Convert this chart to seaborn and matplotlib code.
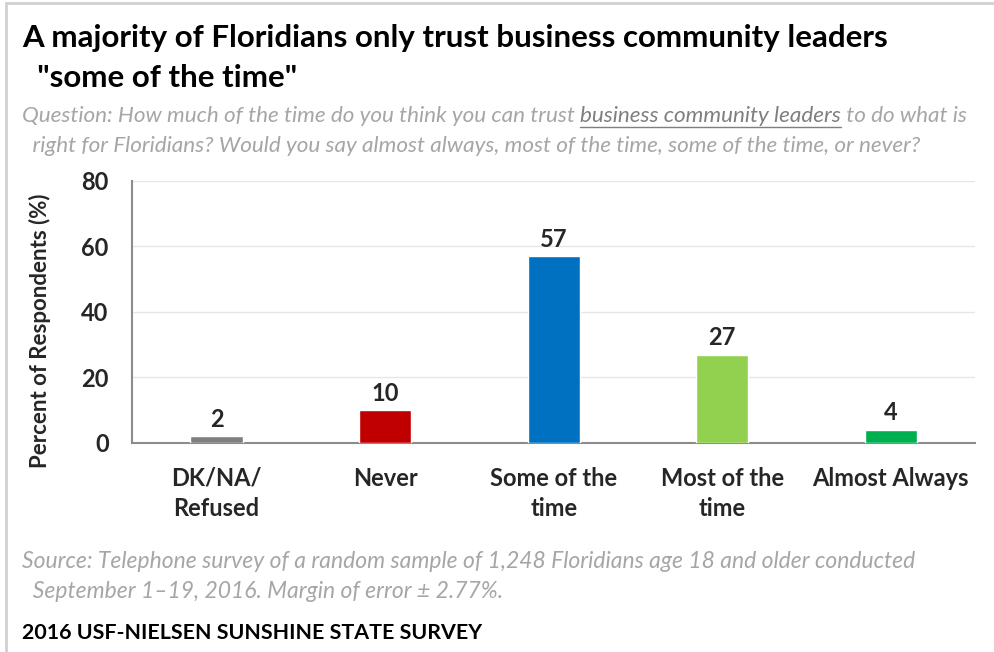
import matplotlib
matplotlib.use("Agg")
import matplotlib.pyplot as plt
import seaborn as sns
import pandas as pd
from matplotlib.lines import Line2D

categories = ["DK/NA/\nRefused", "Never", "Some of the\ntime", "Most of the\ntime", "Almost Always"]
values = [2, 10, 57, 27, 4]
bar_colors = ["#7f7f7f", "#c00000", "#0070c0", "#92d050", "#00b050"]
y_ticks = [0, 20, 40, 60, 80]

title_1 = "A majority of Floridians only trust business community leaders"
title_2 = '  "some of the time"'
q_before = "Question: How much of the time do you think you can trust "
q_under = "business community leaders"
q_after = " to do what is"
q_line2 = "  right for Floridians? Would you say almost always, most of the time, some of the time, or never?"
source_1 = "Source: Telephone survey of a random sample of 1,248 Floridians age 18 and older conducted"
source_2 = "  September 1\u201319, 2016. Margin of error \u00b1 2.77%."
footer = "2016 USF-NIELSEN SUNSHINE STATE SURVEY"

sns.set_theme(style="white")
plt.rcParams['font.family'] = ['Lato', 'DejaVu Sans']

df = pd.DataFrame({"cat": categories, "val": values})

fig = plt.figure(figsize=(9.95, 6.52), dpi=100)
ax = fig.add_axes([0.133, 0.3206, 0.847, 0.4018])

sns.barplot(data=df, x="cat", y="val", hue="cat", palette=bar_colors,
            legend=False, width=0.31, saturation=1, ax=ax, zorder=3)

ax.set_ylim(0, 80)
ax.set_xlim(-0.5, 4.5)
ax.set_yticks(y_ticks)
ax.set_yticklabels([str(t) for t in y_ticks], fontsize=17, fontweight='bold')
ax.set_xticks(range(len(categories)))
ax.set_xticklabels(categories, fontsize=17, fontweight='bold', linespacing=1.4)
ax.tick_params(axis='x', length=0, pad=17)
ax.tick_params(axis='y', length=0, pad=17)
ax.set_xlabel("")
ax.set_ylabel("Percent of Respondents (%)", fontsize=16, fontweight='bold')
ax.yaxis.set_label_coords(-0.097, 0.43)
ax.yaxis.grid(True, color="#e6e6e6", linewidth=1, zorder=0)
for s in ["top", "right"]:
    ax.spines[s].set_visible(False)
for s in ["left", "bottom"]:
    ax.spines[s].set_color("#8c8c8c")
    ax.spines[s].set_linewidth(1.5)

for container in ax.containers:
    ax.bar_label(container, fmt="%d", fontsize=17, fontweight='bold', padding=4)

# light frame on the left and top edges
fig.lines.append(Line2D([0.006, 0.006], [0, 0.995], transform=fig.transFigure,
                        color="#d0d0d0", linewidth=2))
fig.lines.append(Line2D([0.006, 1], [0.995, 0.995], transform=fig.transFigure,
                        color="#d0d0d0", linewidth=2))

fig.text(0.022, 0.928, title_1, fontsize=22.5, fontweight='bold', va='baseline', color="#000000")
fig.text(0.022, 0.867, title_2, fontsize=22.5, fontweight='bold', va='baseline', color="#000000")

qsize = 16.2
qcolor = "#a6a6a6"
y1 = 0.813
t1 = fig.text(0.022, y1, q_before, fontsize=qsize, style='italic', color=qcolor,
              va='baseline')
fig.canvas.draw()
r = fig.canvas.get_renderer()
bb = t1.get_window_extent(r)
x2 = bb.x1 / fig.bbox.width
t2 = fig.text(x2, y1, q_under, fontsize=qsize, style='italic', color="#7f7f7f",
              va='baseline')
bb2 = t2.get_window_extent(r)
x3 = bb2.x1 / fig.bbox.width
fig.text(x3, y1, q_after, fontsize=qsize, style='italic', color=qcolor, va='baseline')
fig.lines.append(Line2D([x2, x3], [y1 - 0.008, y1 - 0.008], transform=fig.transFigure,
                        color="#7f7f7f", linewidth=1))
fig.text(0.022, y1 - 0.046, q_line2, fontsize=qsize, style='italic', color=qcolor,
         va='baseline')

fig.text(0.022, 0.129, source_1, fontsize=16.5, style='italic', color=qcolor, va='baseline')
fig.text(0.022, 0.083, source_2, fontsize=16.5, style='italic', color=qcolor, va='baseline')
fig.text(0.022, 0.020, footer, fontsize=15.4, fontweight='bold', color="#000000", va='baseline')

fig.savefig("out.png", dpi=100, facecolor="white")
